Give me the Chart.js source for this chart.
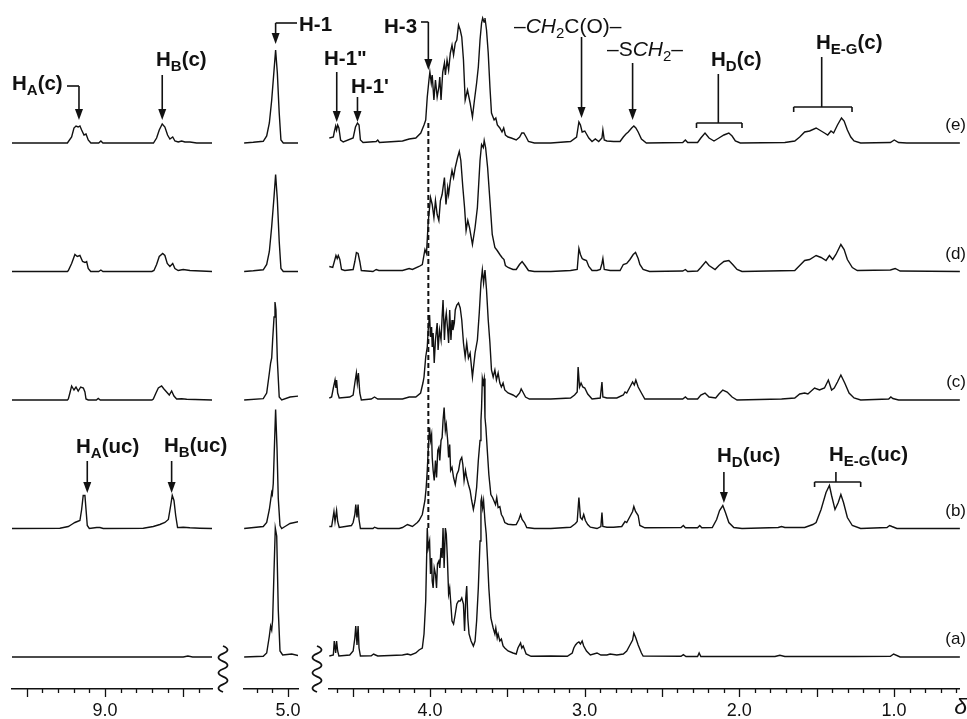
<!DOCTYPE html>
<html>
<head>
<meta charset="utf-8">
<script src="https://cdn.jsdelivr.net/npm/chart.js@4.4.1/dist/chart.umd.min.js"></script>
<style>
  html, body { margin: 0; background: #fff; }
  #wrap { position: relative; width: 967px; height: 719px; }
  #wrap canvas { position: absolute; left: 0; top: 0; }
</style>
</head>
<body>
<div id="wrap">
  <canvas id="segL" width="967" height="719"></canvas>
  <canvas id="segM" width="967" height="719"></canvas>
  <canvas id="segR" width="967" height="719"></canvas>
</div>
<script>
// Spectra: [delta (ppm), intensity above own baseline]
const traceLabels = ['(a)', '(b)', '(c)', '(d)', '(e)'];

const aLeft = [[9.60,0],[8.50,0],[8.47,1],[8.44,0],[8.31,0]];
const aMid = [[5.28,0],[5.158,0.7],[5.136,4],[5.119,21],[5.111,31],[5.104,27],[5.098,37],[5.089,87],[5.081,129],[5.072,121],[5.062,47],[5.051,6],[5.034,2],[4.976,3],[4.93,1.3]];
const aRight = [[4.65,1],[4.624,2],[4.618,16],[4.609,4],[4.603,16],[4.596,6],[4.588,1],[4.518,2],[4.496,6],[4.485,19],[4.479,31],[4.471,12],[4.464,31],[4.458,9],[4.449,1],[4.379,1.3],[4.364,3],[4.351,2],[4.337,1],[4.177,2],[4.145,3],[4.124,2],[4.091,4],[4.07,7],[4.049,9],[4.038,23],[4.027,56],[4.017,129],[4.011,109],[4.002,116],[3.996,83],[3.989,99],[3.985,76],[3.979,69],[3.972,89],[3.964,83],[3.957,69],[3.951,93],[3.942,96],[3.936,89],[3.928,109],[3.921,99],[3.915,129],[3.908,89],[3.90,129],[3.894,123],[3.887,99],[3.879,63],[3.872,69],[3.866,56],[3.857,36],[3.847,33],[3.836,43],[3.826,53],[3.815,56],[3.804,56],[3.794,59],[3.783,53],[3.776,26],[3.768,59],[3.762,71],[3.755,39],[3.747,23],[3.734,16],[3.719,11],[3.708,16],[3.698,36],[3.687,69],[3.676,116],[3.67,156],[3.666,159],[3.659,149],[3.653,156],[3.644,136],[3.636,123],[3.627,96],[3.619,69],[3.606,39],[3.591,29],[3.58,23],[3.574,29],[3.565,19],[3.559,23],[3.548,16],[3.538,18],[3.527,11],[3.516,9],[3.495,6],[3.463,4],[3.442,3],[3.431,9],[3.414,14],[3.406,9],[3.397,11],[3.378,3],[3.346,0.7],[3.219,1],[3.112,0.7],[3.08,4],[3.07,9],[3.059,12],[3.048,14],[3.037,15],[3.027,13],[3.016,16],[3.006,11],[2.988,6],[2.963,2],[2.92,4],[2.895,2],[2.856,2],[2.835,3],[2.792,2],[2.75,3],[2.728,6],[2.707,12],[2.69,17],[2.682,24],[2.669,19],[2.654,12],[2.633,4],[2.622,1],[2.377,0.7],[2.362,2.3],[2.345,0.5],[2.27,0.5],[2.26,4],[2.249,0.5],[1.77,0.5],[1.738,1.7],[1.706,0.5],[1.259,0.5],[1.024,0.7],[1.003,3],[0.961,0],[0.57,0]];

const bLeft = [[9.60,0],[9.288,0.3],[9.234,2],[9.213,4],[9.192,6],[9.16,8],[9.149,19],[9.139,33],[9.128,33],[9.121,19],[9.113,3],[9.10,0],[9.053,1],[9.032,1],[9.011,0],[8.755,0.3],[8.691,2],[8.649,4],[8.617,6],[8.595,9],[8.58,23],[8.57,33],[8.559,28],[8.548,13],[8.536,1],[8.521,1],[8.50,1.3],[8.457,0.7],[8.393,0.3],[8.31,0]];
const bMid = [[5.28,0],[5.158,2],[5.136,6],[5.119,19],[5.111,28],[5.104,36],[5.10,34],[5.094,45],[5.085,90],[5.079,119],[5.07,80],[5.062,30],[5.051,3],[5.04,0],[5.019,2],[4.987,5],[4.93,7]];
const bRight = [[4.65,2],[4.635,2],[4.62,17],[4.613,7],[4.603,18],[4.596,7],[4.586,1],[4.507,3],[4.496,6],[4.485,14],[4.479,24],[4.471,11],[4.464,24],[4.458,9],[4.449,0],[4.368,0],[4.358,1.3],[4.337,0],[4.198,0],[4.177,1],[4.145,4],[4.113,2],[4.081,6],[4.07,8],[4.049,14],[4.032,28],[4.024,41],[4.017,58],[4.011,78],[4.002,101],[3.996,88],[3.989,94],[3.985,71],[3.979,58],[3.972,48],[3.964,68],[3.957,51],[3.949,78],[3.942,81],[3.936,68],[3.928,88],[3.921,91],[3.915,108],[3.908,121],[3.90,98],[3.894,104],[3.885,88],[3.879,71],[3.872,84],[3.866,58],[3.857,61],[3.847,51],[3.836,44],[3.826,54],[3.815,58],[3.804,68],[3.794,71],[3.787,64],[3.779,48],[3.77,58],[3.762,51],[3.751,44],[3.74,38],[3.73,28],[3.719,19],[3.708,28],[3.698,41],[3.687,68],[3.676,88],[3.67,108],[3.666,121],[3.661,150],[3.655,145],[3.649,150],[3.644,111],[3.638,101],[3.629,78],[3.619,54],[3.606,34],[3.595,31],[3.587,28],[3.576,24],[3.568,31],[3.559,21],[3.548,22],[3.538,14],[3.527,11],[3.516,6],[3.495,4.3],[3.463,3.7],[3.442,4],[3.425,9],[3.414,14],[3.404,9],[3.389,6],[3.374,1],[3.325,0],[3.219,0],[3.091,1.3],[3.059,5],[3.048,7],[3.037,31],[3.027,11],[3.016,9],[3.006,14],[2.995,8],[2.98,4],[2.963,1.3],[2.92,0],[2.895,2],[2.888,16],[2.882,2],[2.856,1.3],[2.813,1.3],[2.76,2],[2.739,7],[2.728,6],[2.707,12],[2.69,17],[2.682,22],[2.671,17],[2.654,13],[2.643,3],[2.611,0.7],[2.377,1],[2.362,3],[2.349,0.7],[2.27,0.7],[2.256,3],[2.243,0.7],[2.175,1],[2.147,9],[2.128,18],[2.107,23],[2.09,16],[2.068,6],[2.036,1],[1.983,0],[1.749,1],[1.727,2],[1.706,1],[1.578,1],[1.525,4],[1.504,6],[1.472,19],[1.44,36],[1.418,43],[1.404,33],[1.382,19],[1.361,26],[1.344,34],[1.327,26],[1.302,11],[1.27,3],[1.216,0],[1.046,1],[1.029,3],[1.014,2],[0.982,0],[0.57,0]];

const cLeft = [[9.60,0],[9.24,0],[9.234,1],[9.224,7],[9.213,14],[9.198,10],[9.185,13],[9.171,9],[9.155,13],[9.138,12],[9.128,8],[9.121,1],[9.107,0],[9.055,0],[9.043,1.5],[9.03,0],[8.70,0],[8.691,1],[8.674,7],[8.659,12],[8.638,14],[8.623,11],[8.606,8],[8.589,5],[8.574,9],[8.559,4],[8.542,1],[8.51,1.3],[8.478,0.7],[8.31,0]];
const cMid = [[5.28,0],[5.158,1.3],[5.136,7],[5.119,27],[5.111,37],[5.104,42],[5.098,60],[5.089,83],[5.083,98],[5.077,90],[5.068,40],[5.056,3],[5.04,0],[4.987,3],[4.93,4]];
const cRight = [[4.65,2],[4.635,3],[4.624,12],[4.613,20],[4.607,12],[4.603,20],[4.596,7],[4.586,2],[4.518,3],[4.496,5],[4.485,17],[4.475,27],[4.469,17],[4.462,27],[4.453,7],[4.443,0],[4.379,1],[4.358,3],[4.337,1],[4.177,1],[4.134,3],[4.091,3],[4.06,7],[4.045,17],[4.038,23],[4.027,43],[4.017,53],[4.011,70],[4.002,85],[3.996,63],[3.989,73],[3.985,53],[3.979,67],[3.972,37],[3.964,60],[3.953,77],[3.947,50],[3.938,70],[3.928,60],[3.921,83],[3.915,100],[3.906,60],[3.90,80],[3.894,87],[3.885,70],[3.879,57],[3.872,90],[3.864,60],[3.857,80],[3.851,70],[3.842,77],[3.836,90],[3.826,95],[3.815,97],[3.804,92],[3.794,80],[3.783,57],[3.772,43],[3.762,57],[3.751,42],[3.74,47],[3.725,23],[3.708,47],[3.693,60],[3.681,87],[3.67,117],[3.661,130],[3.653,117],[3.644,130],[3.634,110],[3.623,80],[3.612,57],[3.602,30],[3.591,23],[3.58,30],[3.57,20],[3.559,27],[3.548,17],[3.538,13],[3.527,17],[3.516,10],[3.495,7],[3.463,5],[3.442,3],[3.42,7],[3.41,11],[3.399,8],[3.382,3],[3.357,1],[3.219,1],[3.091,2],[3.065,5],[3.048,8],[3.042,33],[3.033,13],[3.023,17],[3.012,13],[2.999,12],[2.98,6],[2.952,1],[2.899,2],[2.888,18],[2.882,3],[2.856,2],[2.792,2],[2.75,5],[2.739,8],[2.728,7],[2.707,13],[2.69,18],[2.679,15],[2.669,20],[2.654,13],[2.633,7],[2.611,1],[2.366,1],[2.349,3],[2.334,1],[2.27,1],[2.249,5],[2.222,7],[2.196,3],[2.153,2],[2.132,6],[2.107,10],[2.079,8],[2.047,3],[2.015,0],[1.727,1],[1.642,2],[1.61,6],[1.578,7],[1.557,6],[1.514,12],[1.482,10],[1.45,12],[1.425,20],[1.404,10],[1.387,12],[1.366,18],[1.344,25],[1.319,17],[1.291,7],[1.259,2],[1.216,0],[1.035,1],[1.021,3],[1.008,1.5],[0.971,0],[0.57,0]];

const dLeft = [[9.60,0],[9.24,0],[9.234,1],[9.213,8],[9.192,17],[9.177,15],[9.16,16],[9.143,10],[9.128,9],[9.117,10],[9.107,3],[9.091,0],[9.04,0],[9.026,1.5],[9.013,0],[8.70,0],[8.687,1],[8.67,7],[8.653,15],[8.631,18],[8.617,16],[8.602,8],[8.585,5],[8.567,8],[8.553,3],[8.532,1],[8.50,2],[8.457,1],[8.31,0]];
const dMid = [[5.28,0],[5.222,0.7],[5.158,1.7],[5.136,7],[5.119,20],[5.104,45],[5.089,75],[5.079,97],[5.068,72],[5.056,30],[5.045,3],[5.03,0],[4.93,0]];
const dRight = [[4.65,5],[4.628,4],[4.614,12],[4.607,16],[4.599,13],[4.592,16],[4.582,12],[4.571,2],[4.55,1],[4.496,2],[4.485,10],[4.475,19],[4.464,18],[4.453,10],[4.443,1],[4.368,0],[4.347,2],[4.33,1],[4.177,1],[4.134,3],[4.113,2],[4.07,5],[4.049,7],[4.032,22],[4.022,18],[4.011,49],[3.996,74],[3.985,67],[3.974,54],[3.964,71],[3.953,57],[3.942,51],[3.932,71],[3.921,77],[3.906,94],[3.896,67],[3.885,84],[3.879,77],[3.868,91],[3.857,101],[3.847,94],[3.836,104],[3.821,114],[3.81,120],[3.80,111],[3.787,84],[3.776,64],[3.766,41],[3.755,51],[3.744,44],[3.725,27],[3.708,44],[3.693,64],[3.676,111],[3.666,127],[3.655,124],[3.649,131],[3.64,124],[3.627,104],[3.612,71],[3.597,37],[3.58,24],[3.565,21],[3.548,17],[3.534,14],[3.521,12],[3.512,6],[3.495,4],[3.463,2],[3.442,2],[3.421,7],[3.404,10],[3.385,6],[3.363,1],[3.325,0],[3.219,0],[3.091,1],[3.048,2],[3.037,23],[3.027,17],[3.016,13],[3.006,12],[2.988,11],[2.973,5],[2.952,1],[2.92,1],[2.899,2],[2.888,8],[2.882,13],[2.873,2],[2.835,1],[2.771,1],[2.75,7],[2.728,8],[2.707,12],[2.686,17],[2.671,19],[2.654,13],[2.643,7],[2.622,2],[2.58,0],[2.366,0.5],[2.349,2],[2.334,0],[2.27,0.5],[2.249,4],[2.217,10],[2.196,6],[2.157,2],[2.132,6],[2.10,10],[2.068,11],[2.043,7],[2.015,2],[1.983,0],[1.642,1],[1.61,6],[1.578,11],[1.546,12],[1.504,16],[1.472,14],[1.44,11],[1.418,16],[1.397,12],[1.376,17],[1.344,27],[1.323,22],[1.302,12],[1.27,4],[1.238,1],[1.024,1.5],[0.993,3],[0.961,0.5],[0.57,0]];

const eLeft = [[9.60,0],[9.24,0],[9.213,6],[9.198,15],[9.185,17],[9.171,16],[9.16,17],[9.149,13],[9.134,8],[9.121,9],[9.107,3],[9.09,0],[9.04,0],[9.026,2],[9.013,0],[8.69,0],[8.67,5],[8.653,13],[8.634,19],[8.617,16],[8.60,8],[8.585,4],[8.567,6],[8.553,2],[8.532,1],[8.51,2],[8.489,1],[8.457,1],[8.414,0],[8.31,0]];
const eMid = [[5.28,0],[5.222,0.7],[5.158,1.7],[5.136,7],[5.119,20],[5.104,43],[5.089,73],[5.079,93],[5.068,70],[5.056,30],[5.045,3],[5.03,0],[4.93,0]];
const eRight = [[4.65,5],[4.624,6],[4.618,11],[4.609,17],[4.603,13],[4.596,18],[4.588,15],[4.577,3],[4.56,1],[4.496,5],[4.481,16],[4.468,20],[4.458,18],[4.449,3],[4.432,0.5],[4.347,1.5],[4.337,3],[4.326,0.5],[4.177,2],[4.134,4],[4.091,5],[4.059,10],[4.038,18],[4.027,23],[4.017,46],[4.006,63],[4.0,71],[3.991,60],[3.985,68],[3.974,43],[3.964,63],[3.953,46],[3.942,56],[3.936,66],[3.928,43],[3.917,71],[3.906,80],[3.9,68],[3.889,83],[3.879,73],[3.868,90],[3.857,98],[3.847,88],[3.836,100],[3.826,103],[3.815,118],[3.804,113],[3.794,106],[3.783,83],[3.772,43],[3.757,53],[3.74,40],[3.725,26],[3.712,43],[3.698,60],[3.687,76],[3.676,103],[3.666,120],[3.659,125],[3.65,121],[3.644,125],[3.634,113],[3.623,90],[3.612,56],[3.602,30],[3.585,23],[3.574,25],[3.564,18],[3.548,15],[3.534,11],[3.523,15],[3.512,8],[3.495,6],[3.474,5],[3.442,3],[3.42,6],[3.406,10],[3.393,10],[3.378,6],[3.363,1.5],[3.325,0],[3.219,0],[3.091,1.5],[3.052,6],[3.037,21],[3.027,18],[3.016,11],[2.999,12],[2.988,9],[2.973,5],[2.952,1.5],[2.931,4],[2.909,1.5],[2.888,5],[2.882,13],[2.873,3],[2.856,2],[2.813,1.5],[2.771,1.5],[2.75,6],[2.733,9],[2.718,11],[2.696,15],[2.682,17],[2.669,15],[2.654,11],[2.633,4],[2.601,0],[2.366,0.5],[2.349,3],[2.334,0.5],[2.27,0.5],[2.249,5],[2.222,10],[2.196,5],[2.164,2],[2.132,5],[2.10,8],[2.068,10],[2.047,7],[2.026,2],[1.994,0],[1.706,0.5],[1.642,2],[1.61,6],[1.578,11],[1.546,12],[1.504,15],[1.482,13],[1.45,10],[1.429,8],[1.408,12],[1.391,10],[1.366,18],[1.34,25],[1.323,22],[1.302,13],[1.28,6],[1.259,2],[1.216,0],[1.024,0.5],[0.999,3],[0.971,0.5],[0.918,0],[0.57,0]];

const spectra = [
    { L: aLeft, M: aMid, R: aRight },
    { L: bLeft, M: bMid, R: bRight },
    { L: cLeft, M: cMid, R: cRight },
    { L: dLeft, M: dMid, R: dRight },
    { L: eLeft, M: eMid, R: eRight }
];

// Layout: stacked baselines, axis breaks
const BASE = 32;
const GAP = 128.5;
const W = 967, H = 719, AXIS_H = 30;

const segments = [
    { id: 'segL', key: 'L', min: 8.316, max: 9.594, left: 12, right: 212 },
    { id: 'segM', key: 'M', min: 4.936, max: 5.281, left: 244, right: 298 },
    { id: 'segR', key: 'R', min: 0.575, max: 4.652, left: 329, right: 967 }
];

const SANS = '"Liberation Sans", Arial, Helvetica, sans-serif';
const INK = '#111';

// draw text made of pieces: [text, flags] where flags may hold 's' (subscript) and 'i' (italic)
function richText(ctx, parts, x, y, size, bold) {
    let cx = x;
    parts.forEach(([t, f = '']) => {
        const sub = f.includes('s');
        const it = f.includes('i');
        const sz = sub ? Math.round(size * 0.72) : size;
        ctx.font = `${it ? 'italic ' : ''}${bold ? 'bold ' : ''}${sz}px ${SANS}`;
        ctx.fillText(t, cx, sub ? y + 5 : y);
        cx += ctx.measureText(t).width;
    });
}

function line(ctx, x1, y1, x2, y2) {
    ctx.beginPath();
    ctx.moveTo(x1, y1);
    ctx.lineTo(x2, y2);
    ctx.stroke();
}

function arrowDown(ctx, x, y0, tip) {
    line(ctx, x, y0, x, tip - 9);
    ctx.beginPath();
    ctx.moveTo(x - 4, tip - 11);
    ctx.lineTo(x + 4, tip - 11);
    ctx.lineTo(x, tip);
    ctx.closePath();
    ctx.fill();
}

function bracket(ctx, x, y0, yBar, xa, xb) {
    line(ctx, x, y0, x, yBar);
    line(ctx, xa, yBar, xb, yBar);
    line(ctx, xa, yBar, xa, yBar + 5);
    line(ctx, xb, yBar, xb, yBar + 5);
}

function breakMark(ctx, x, top, bottom) {
    const n = 6;
    const step = (bottom - top) / n;
    ctx.beginPath();
    ctx.moveTo(x, top);
    for (let i = 0; i < n; i++) {
        const dir = i % 2 === 0 ? 1 : -1;
        ctx.quadraticCurveTo(x + dir * 9, top + step * (i + 0.5), x, top + step * (i + 1));
    }
    ctx.stroke();
}

// peak labels: arrows placed at chemical shifts through the x scale
const labels = [
    { seg: 'L', kind: 'elbowL', d: 9.166, text: [['H'], ['A', 's'], ['(c)']], tx: 12, ty: 90, y0: 86, tip: 120, xEnd: 67 },
    { seg: 'L', kind: 'arrow', d: 8.634, text: [['H'], ['B', 's'], ['(c)']], tx: 156, ty: 66, y0: 75, tip: 120 },
    { seg: 'L', kind: 'arrow', d: 9.113, text: [['H'], ['A', 's'], ['(uc)']], tx: 76, ty: 453, y0: 461, tip: 493 },
    { seg: 'L', kind: 'arrow', d: 8.574, text: [['H'], ['B', 's'], ['(uc)']], tx: 164, ty: 452, y0: 461, tip: 493 },
    { seg: 'M', kind: 'elbowR', d: 5.079, text: [['H-1']], tx: 299, ty: 31, y0: 23, tip: 44, xEnd: 297 },
    { seg: 'R', kind: 'arrow', d: 4.602, text: [['H-1"']], tx: 324, ty: 65, y0: 72, tip: 122 },
    { seg: 'R', kind: 'arrow', d: 4.468, text: [["H-1'"]], tx: 351, ty: 93, y0: 97, tip: 122 },
    { seg: 'R', kind: 'elbowL', d: 4.01, text: [['H-3']], tx: 384, ty: 33, y0: 22, tip: 70, xEnd: 421 },
    { seg: 'R', kind: 'arrow', d: 3.02, text: [['\u2013'], ['CH', 'i'], ['2', 's'], ['C(O)\u2013']], tx: 514, ty: 33, y0: 37, tip: 118, normal: true },
    { seg: 'R', kind: 'arrow', d: 2.69, text: [['\u2013S'], ['CH', 'i'], ['2', 's'], ['\u2013']], tx: 607, ty: 56, y0: 63, tip: 120, normal: true },
    { seg: 'R', kind: 'bracket', d: 2.136, a: 2.277, b: 1.983, text: [['H'], ['D', 's'], ['(c)']], tx: 711, ty: 66, y0: 74, bar: 123 },
    { seg: 'R', kind: 'bracket', d: 1.468, a: 1.649, b: 1.272, text: [['H'], ['E-G', 's'], ['(c)']], tx: 816, ty: 49, y0: 57, bar: 107 },
    { seg: 'R', kind: 'arrow', d: 2.10, text: [['H'], ['D', 's'], ['(uc)']], tx: 717, ty: 462, y0: 472, tip: 503 },
    { seg: 'R', kind: 'bracket', d: 1.376, a: 1.514, b: 1.216, text: [['H'], ['E-G', 's'], ['(uc)']], tx: 829, ty: 461, y0: 472, bar: 482 }
];

const decorations = {
    id: 'decorations',
    afterDraw(chart, args, opts) {
        const ctx = chart.ctx;
        const sx = chart.scales.x;
        const sy = chart.scales.y;
        const bottom = chart.chartArea.bottom;
        ctx.save();
        ctx.strokeStyle = INK;
        ctx.fillStyle = INK;
        ctx.lineCap = 'butt';

        // tick marks below the axis, long every 0.5 ppm
        ctx.lineWidth = 1.3;
        sx.ticks.forEach(t => {
            const major = Math.abs(t.value * 2 - Math.round(t.value * 2)) < 1e-6;
            const px = Math.round(sx.getPixelForValue(t.value)) + 0.5;
            line(ctx, px, bottom, px, bottom + (major ? 8 : 4));
        });

        ctx.textAlign = 'left';
        ctx.textBaseline = 'alphabetic';
        labels.filter(l => l.seg === opts.seg).forEach(l => {
            const x = sx.getPixelForValue(l.d);
            ctx.lineWidth = 1.6;
            if (l.kind === 'arrow') {
                arrowDown(ctx, x, l.y0, l.tip);
            } else if (l.kind === 'elbowL' || l.kind === 'elbowR') {
                line(ctx, l.xEnd, l.y0, x, l.y0);
                arrowDown(ctx, x, l.y0, l.tip);
            } else if (l.kind === 'bracket') {
                bracket(ctx, x, l.y0, l.bar, sx.getPixelForValue(l.a), sx.getPixelForValue(l.b));
            }
            richText(ctx, l.text, l.tx, l.ty, l.normal ? 21 : 20.5, !l.normal);
        });

        if (opts.seg === 'R') {
            // dashed guide under H-3
            const xd = sx.getPixelForValue(4.01);
            ctx.lineWidth = 2;
            ctx.setLineDash([5, 3]);
            line(ctx, xd, 123, xd, 528);
            ctx.setLineDash([]);

            // spectrum names at the right end of each baseline
            ctx.textAlign = 'right';
            ctx.font = `17px ${SANS}`;
            traceLabels.forEach((t, k) => {
                ctx.fillText(t, 966, sy.getPixelForValue(BASE + k * GAP + 13));
            });

            ctx.font = `italic 23px ${SANS}`;
            ctx.fillText('\u03b4', 967, 714);

            // axis breaks
            ctx.lineWidth = 1.8;
            breakMark(ctx, 223, 646, 692);
            breakMark(ctx, 317, 646, 692);
        }
        ctx.restore();
    }
};

function buildDatasets(key) {
    return spectra.map((s, k) => ({
        label: traceLabels[k],
        data: s[key].map(([d, v]) => ({ x: d, y: v + BASE + k * GAP })),
        showLine: true,
        borderColor: INK,
        borderWidth: 1.4,
        pointRadius: 0,
        tension: 0
    }));
}

segments.forEach(seg => {
    new Chart(document.getElementById(seg.id), {
        type: 'scatter',
        data: { datasets: buildDatasets(seg.key) },
        options: {
            responsive: false,
            animation: false,
            devicePixelRatio: 1,
            layout: {
                autoPadding: false,
                padding: { left: seg.left, right: W - seg.right, top: 0, bottom: 0 }
            },
            plugins: {
                legend: { display: false },
                tooltip: { enabled: false },
                decorations: { seg: seg.key }
            },
            scales: {
                x: {
                    type: 'linear',
                    reverse: true,
                    min: seg.min,
                    max: seg.max,
                    afterFit: s => { s.height = AXIS_H; },
                    border: { display: true, color: INK, width: 1.5 },
                    grid: { display: false, drawTicks: false },
                    ticks: {
                        stepSize: 0.1,
                        includeBounds: false,
                        autoSkip: false,
                        maxRotation: 0,
                        padding: 11,
                        color: INK,
                        font: { family: SANS, size: 18 },
                        callback: v => Math.abs(v - Math.round(v)) < 1e-6 ? v.toFixed(1) : ''
                    }
                },
                y: {
                    display: false,
                    min: 0,
                    max: H - AXIS_H
                }
            }
        },
        plugins: [decorations]
    });
});
</script>
</body>
</html>
